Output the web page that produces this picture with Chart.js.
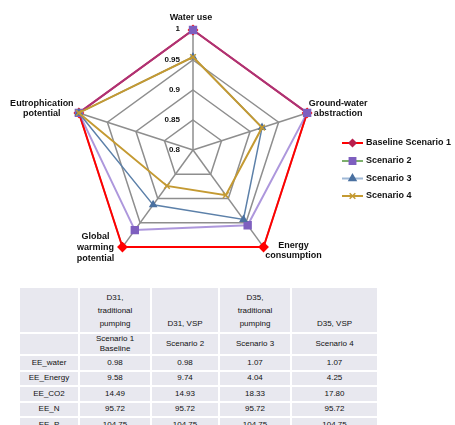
<!DOCTYPE html>
<html>
<head>
<meta charset="utf-8">
<script src="https://cdn.jsdelivr.net/npm/chart.js@4"></script>
<style>
  html, body { margin:0; padding:0; background:#fff; width:455px; height:425px; overflow:hidden; }
  #wrap { position:absolute; left:0; top:0; width:455px; height:285px; }
  table { position:absolute; left:18px; top:286px; border-collapse:separate; border-spacing:2px;
          font-family:"Liberation Sans", Arial, sans-serif; font-size:8px; color:#111; }
  td { background:#E8E8EF; text-align:center; vertical-align:middle; padding:0 2px; line-height:10px; }
  tr.h1 td { height:42px; vertical-align:bottom; line-height:13px; padding-bottom:2px; }
  tr.h2 td { height:20px; }
  tr.d td { height:13.5px; }
</style>
</head>
<body>
<div id="wrap"><canvas id="c" width="455" height="285"></canvas></div>
<table id="tbl"></table>
<script>
// ---- data ----
const categories = ["Water use", "Groundwater abstraction", "Energy consumption", "Global warming potential", "Eutrophication potential"];
const categoryLines = [["Water use"], ["Ground-water", "abstraction"], ["Energy", "consumption"], ["Global", "warming", "potential"], ["Eutrophication", "potential"]];
const seriesNames = ["Baseline Scenario 1", "Scenario 2", "Scenario 3", "Scenario 4"];
const baseline = [1, 1, 1, 1, 1];
const scenario2 = [1, 1, 0.955, 0.965, 1];
const scenario3 = [0.955, 0.921, 0.943, 0.913, 1];
const scenario4 = [0.955, 0.921, 0.893, 0.874, 1];
const tickValues = [0.8, 0.85, 0.9, 0.95, 1];
const tickLabels = ["0.8", "0.85", "0.9", "0.95", "1"];

const tableHead1 = ["", "D31,<br>traditional<br>pumping", "D31, VSP", "D35,<br>traditional<br>pumping", "D35, VSP"];
const tableHead2 = ["", "Scenario 1<br>Baseline", "Scenario 2", "Scenario 3", "Scenario 4"];
const rowNames = ["EE_water", "EE_Energy", "EE_CO2", "EE_N", "EE_P"];
const tS1 = ["0.98", "9.58", "14.49", "95.72", "104.75"];
const tS2 = ["0.98", "9.74", "14.93", "95.72", "104.75"];
const tS3 = ["1.07", "4.04", "18.33", "95.72", "104.75"];
const tS4 = ["1.07", "4.25", "17.80", "95.72", "104.75"];

// ---- table ----
const colW = [54, 66, 62, 66, 81];
let html = '<tr class="h1">' + tableHead1.map((t,i)=>`<td style="width:${colW[i]}px">${t}</td>`).join('') + '</tr>';
html += '<tr class="h2">' + tableHead2.map(t=>`<td>${t}</td>`).join('') + '</tr>';
rowNames.forEach((r,i)=>{
  html += `<tr class="d"><td>${r}</td><td>${tS1[i]}</td><td>${tS2[i]}</td><td>${tS3[i]}</td><td>${tS4[i]}</td></tr>`;
});
document.getElementById('tbl').innerHTML = html;

// ---- styles ----
const cRed = '#FF0000';
const cPurpleLine = 'rgba(118,82,196,0.6)';
const cPurple = '#7E5FBF';
const cBlueLine = '#5C80A9';
const cBlue = '#4A70A0';
const cGold = '#C49A32';

const labelFont = 'bold 9px "Liberation Sans", Arial, sans-serif';
const labelOffsets = [[-2,-12],[31,-9],[30,-2],[-27,-11],[-37,-9]];

const overlay = {
  id: 'overlay',
  beforeDatasetsDraw(chart) {
    const s = chart.scales.r, ctx = chart.ctx;
    ctx.save();
    ctx.font = 'bold 8px "Liberation Sans", Arial, sans-serif';
    ctx.fillStyle = '#111';
    ctx.textAlign = 'right';
    ctx.textBaseline = 'middle';
    tickValues.forEach((v,i)=>{
      const d = s.getDistanceFromCenterForValue(v);
      ctx.fillText(tickLabels[i], s.xCenter - 13, s.yCenter - d + (i === tickValues.length-1 ? -1 : 0));
    });
    ctx.restore();
  },
  afterDraw(chart) {
    const s = chart.scales.r, ctx = chart.ctx;
    ctx.save();
    ctx.font = labelFont;
    ctx.fillStyle = '#111';
    ctx.textAlign = 'center';
    ctx.textBaseline = 'middle';
    categoryLines.forEach((lines,i)=>{
      const p = s.getPointPosition(i, s.drawingArea);
      const lh = lines.length > 2 ? 11 : 10;
      lines.forEach((t,j)=>{
        ctx.fillText(t, p.x + labelOffsets[i][0], p.y + labelOffsets[i][1] + j*lh);
      });
    });
    // legend
    const items = [
      {line: cRed, fill: '#B8204E', style: 'rectRot', r: 3.5},
      {line: '#7DAF6C', fill: cPurple, style: 'rect', r: 4.5},
      {line: '#9FB8D6', fill: cBlue, style: 'triangle', r: 4},
      {line: cGold, fill: cGold, style: 'crossRot', r: 4},
    ];
    const ys = [143, 161, 178.5, 196];
    items.forEach((it,i)=>{
      const y = ys[i];
      ctx.strokeStyle = it.line; ctx.lineWidth = 2;
      ctx.beginPath(); ctx.moveTo(342, y); ctx.lineTo(363, y); ctx.stroke();
      ctx.fillStyle = it.fill; ctx.strokeStyle = it.fill; ctx.lineWidth = 1.5;
      Chart.helpers.drawPoint(ctx, {pointStyle: it.style, radius: it.r, rotation: 0, borderWidth: 1.5}, 352.5, y);
      ctx.fillStyle = '#111';
      ctx.font = labelFont;
      ctx.textAlign = 'left'; ctx.textBaseline = 'middle';
      ctx.fillText(seriesNames[i], 366, y);
    });
    ctx.restore();
  }
};

new Chart(document.getElementById('c'), {
  type: 'radar',
  data: {
    labels: categories,
    datasets: [
      { label: seriesNames[0], data: baseline, borderColor: cRed, backgroundColor: cRed, borderWidth: 2,
        pointStyle: 'rectRot', pointRadius: 4, pointBackgroundColor: cRed, pointBorderColor: cRed, fill: false, order: 4 },
      { label: seriesNames[1], data: scenario2, borderColor: cPurpleLine, backgroundColor: cPurple, borderWidth: 2,
        pointStyle: 'rect', pointRadius: 4.5, pointBackgroundColor: cPurple, pointBorderColor: cPurple, fill: false, order: 3 },
      { label: seriesNames[2], data: scenario3, borderColor: cBlueLine, backgroundColor: cBlue, borderWidth: 1.5,
        pointStyle: 'triangle', pointRadius: 3.5, pointBackgroundColor: cBlue, pointBorderColor: cBlue, fill: false, order: 2 },
      { label: seriesNames[3], data: scenario4, borderColor: cGold, backgroundColor: cGold, borderWidth: 2,
        pointStyle: 'crossRot', pointRadius: 4, pointBackgroundColor: cGold, pointBorderColor: cGold, pointBorderWidth: 1.5, fill: false, order: 1 },
    ]
  },
  options: {
    responsive: false,
    animation: false,
    devicePixelRatio: 1,
    layout: { padding: { left: 73, top: 30, right: 142, bottom: 15 } },
    elements: { line: { tension: 0 } },
    plugins: { legend: { display: false }, tooltip: { enabled: false } },
    scales: {
      r: {
        min: 0.8, max: 1,
        ticks: { stepSize: 0.05, display: false, showLabelBackdrop: false },
        pointLabels: { display: false },
        grid: { color: '#8E8E8E', lineWidth: 1.5, circular: false },
        angleLines: { color: '#8E8E8E', lineWidth: 1.5 }
      }
    }
  },
  plugins: [overlay]
});
</script>
</body>
</html>
